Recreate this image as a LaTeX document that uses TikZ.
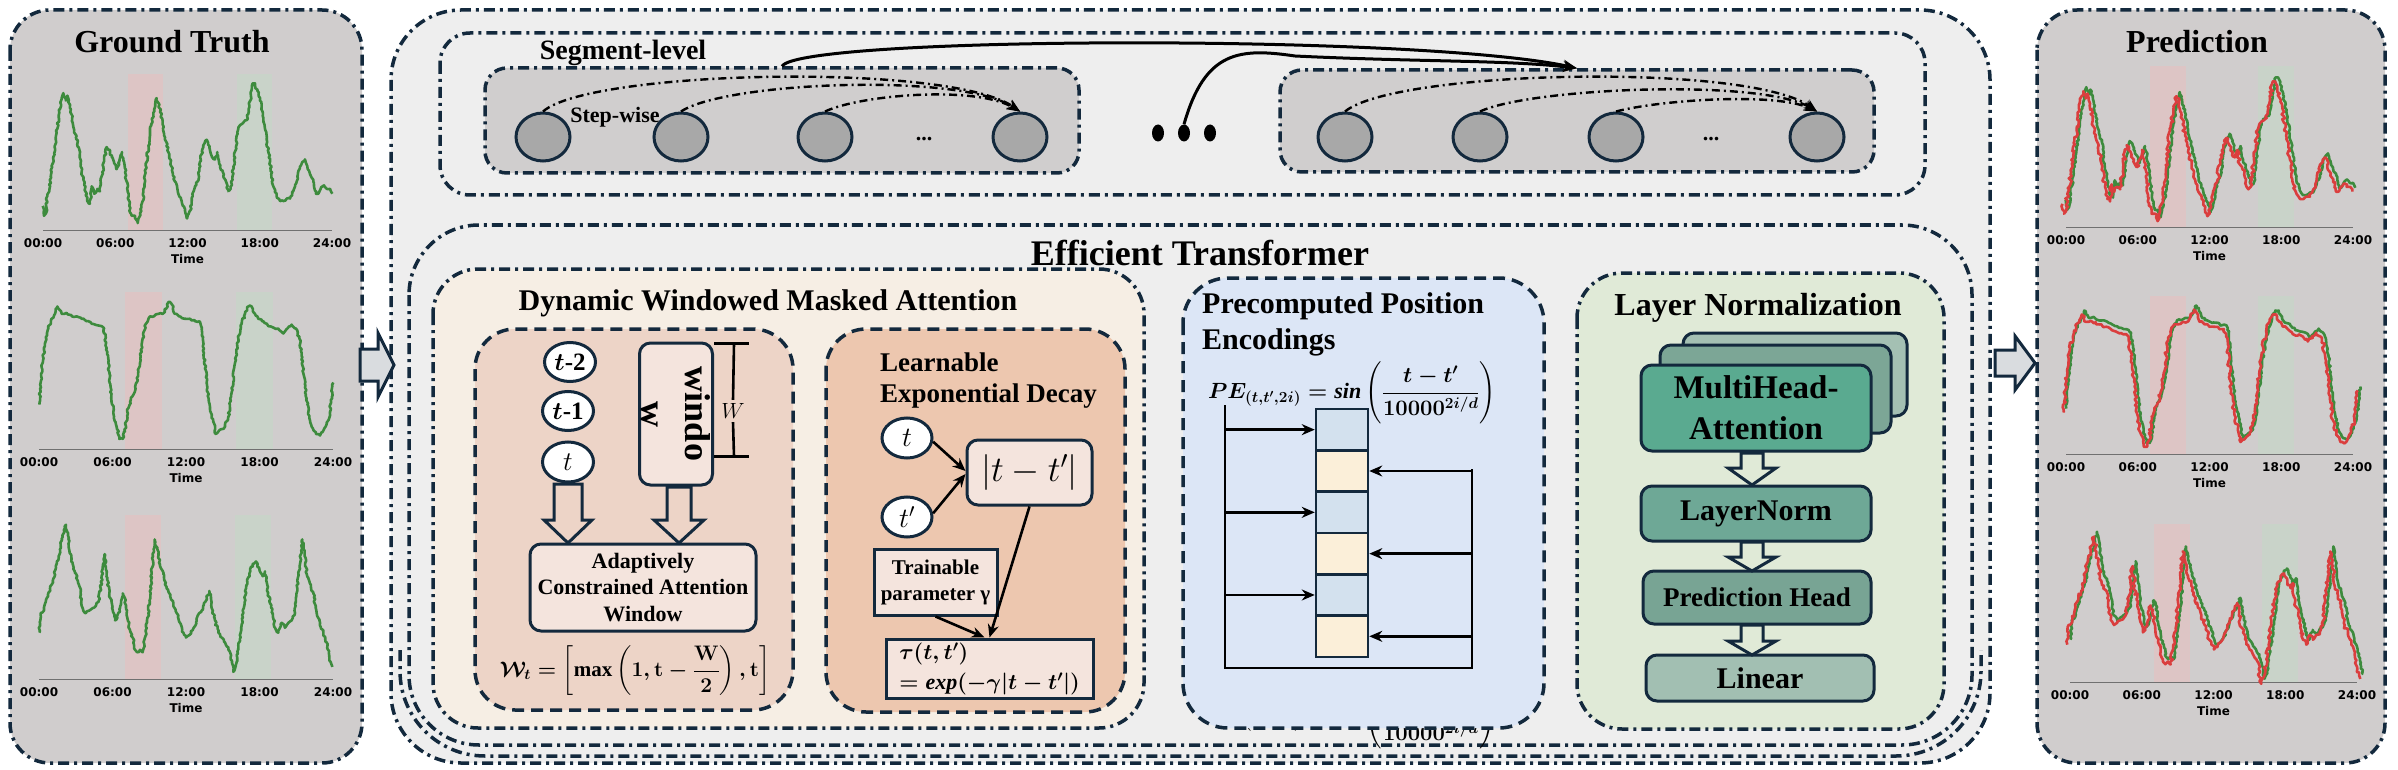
\documentclass[tikz,border=0pt]{standalone}
\usepackage{fix-cm}
\usepackage{amsmath}
\usepackage{fontspec}
\setmainfont{Liberation Serif}
\newfontfamily\djv{DejaVu Sans}
\usetikzlibrary{arrows.meta,decorations.pathmorphing,calc,shapes.geometric}
\definecolor{navy}{HTML}{13293D}
\definecolor{panelgray}{HTML}{D0CDCD}
\definecolor{bandred}{HTML}{DDC5C5}
\definecolor{bandgreen}{HTML}{C9D3C9}
\definecolor{gtgreen}{HTML}{3D8B3D}
\definecolor{predred}{HTML}{DA3E3E}
\definecolor{lightbg}{HTML}{EEEEEE}
\definecolor{seggray}{HTML}{D0CECE}
\definecolor{ellgray}{HTML}{A8A8A8}
\definecolor{creambg}{HTML}{F6EEE4}
\definecolor{salmonA}{HTML}{EDD4C7}
\definecolor{salmonB}{HTML}{EDC7AF}
\definecolor{boxpink}{HTML}{F4E4DD}
\definecolor{peblue}{HTML}{DCE6F6}
\definecolor{cellblue}{HTML}{D3E1EE}
\definecolor{cellcream}{HTML}{FBEFD9}
\definecolor{lngreen}{HTML}{E0EAD7}
\definecolor{mhaA}{HTML}{5AAA90}
\definecolor{mhaB}{HTML}{7CA696}
\definecolor{mhaC}{HTML}{A4C0B3}
\definecolor{cLN}{HTML}{6EA896}
\definecolor{cPH}{HTML}{78A494}
\definecolor{cLin}{HTML}{A2BFB2}
\definecolor{arrowgray}{HTML}{D9DCDF}
\definecolor{axisgray}{HTML}{707070}
\newcommand\fsz[2]{\fontsize{#1}{#2}\selectfont}
\newcommand\wformula{{\boldmath$\mathcal{W}_{t}=\left[\max\left(1,\mathbf{t}-\dfrac{\mathbf{W}}{2}\right),\mathbf{t}\right]$}}
\newcommand\peformula{{\boldmath$PE_{(t,t',2i)}=\mathit{sin}\left(\dfrac{t-t'}{10000^{2i/d}}\right)$}}
\newcommand\absformula{{$|t-t'|$}}
\newcommand\tauA{{\boldmath$\tau(t,t')$}}
\newcommand\tauB{{\boldmath$=\mathit{exp}(-\gamma|t-t'|)$}}
\newcommand\tmath{{$t$}}
\newcommand\tpmath{{$t'$}}
\newcommand\tbold{{\boldmath$t$}}
\newcommand\Wmath{{$W$}}
\tikzset{
  dotframe/.style={draw=navy, line width=3.5pt, dash pattern=on 11pt off 5pt on 3pt off 5pt},
  dashframe/.style={draw=navy, line width=3.5pt, dash pattern=on 12pt off 7pt},
  segbox/.style={rectangle, rounded corners=22pt, fill=seggray, dotframe, inner sep=0pt},
  ellnode/.style={ellipse, draw=navy, line width=3pt, fill=ellgray, minimum width=54pt, minimum height=48pt, inner sep=0pt},
  bigdot/.style={ellipse, fill=black, minimum width=12pt, minimum height=17pt, inner sep=0pt},
  circnode/.style={ellipse, draw=navy, line width=3pt, fill=white, inner sep=0pt},
  softbox/.style={rectangle, rounded corners=11pt, draw=navy, line width=3pt, inner sep=0pt},
  sharpbox/.style={rectangle, draw=navy, line width=3pt, inner sep=0pt},
  cellnode/.style={rectangle, draw=navy, line width=2.5pt, minimum width=52pt, minimum height=41.3pt, inner sep=0pt},
  stepline/.style={line width=2.4pt, dash pattern=on 8pt off 4pt on 2pt off 4pt, -{Stealth[length=13pt,width=10pt]}},
  segarrow/.style={line width=3pt, -{Stealth[length=14pt,width=11pt]}},
  arr/.style={line width=2.6pt, -{Stealth[length=13pt,width=11pt]}},
  bus/.style={line width=2.6pt},
  hollow/.style={draw=navy, line width=3pt, line join=miter},
  gtline/.style={draw=gtgreen, line width=2.6pt, line join=round, decorate, decoration={random steps, segment length=2.2pt, amplitude=1pt}},
  predline/.style={draw=predred, line width=2.6pt, line join=round, decorate, decoration={random steps, segment length=2.4pt, amplitude=1.7pt}},
  ticklab/.style={font=\djv\bfseries\fsz{12}{12}, inner sep=0pt},
}
\newcommand\hollowdown[6]{\draw[hollow] ({#1-#5},#2) -- ({#1-#5},#3) -- ({#1-#6},#3) -- (#1,#4) -- ({#1+#6},#3) -- ({#1+#5},#3) -- ({#1+#5},#2) -- cycle;}
\newcommand\hollowright[6]{\draw[hollow, fill=arrowgray] (#1,{#4-#5}) -- (#2,{#4-#5}) -- (#2,{#4-#6}) -- (#3,#4) -- (#2,{#4+#6}) -- (#2,{#4+#5}) -- (#1,{#4+#5}) -- cycle;}
\newcommand\plotaxes[9]{%
  \fill[bandred] (#5,#4) rectangle (#6,#3);
  \fill[bandgreen] (#7,#4) rectangle (#8,#3);
  \draw[axisgray, line width=1pt] (#1,#3) -- (#2,#3);
  \foreach \k/\lab in {0/00:00,1/06:00,2/12:00,3/18:00,4/24:00}{%
    \node[ticklab] (#9t\k) at ({#1+(#2-#1)*\k/4},{#3+13}) {\lab};}
  \node[ticklab] (#9time) at ({(#1+#2)/2},{#3+29}) {Time};
}
\newcommand\curveA[1]{\draw[#1] (128,420) -- (132,440) -- (138,435) -- (142,400) -- (148,390) -- (152,360) -- (160,320) -- (170,270) -- (178,230) -- (185,200) -- (190,190) -- (197,205) -- (202,195) -- (210,215) -- (218,250) -- (228,280) -- (236,300) -- (245,350) -- (255,385) -- (262,410) -- (270,415) -- (275,380) -- (283,395) -- (292,385) -- (300,390) -- (310,340) -- (320,300) -- (328,305) -- (335,320) -- (342,330) -- (350,345) -- (358,330) -- (366,310) -- (372,330) -- (380,370) -- (388,420) -- (395,440) -- (405,440) -- (413,455) -- (420,435) -- (428,410) -- (440,330) -- (450,270) -- (460,230) -- (470,200) -- (477,215) -- (485,240) -- (495,280) -- (505,310) -- (515,340) -- (525,370) -- (535,395) -- (545,410) -- (555,430) -- (562,445) -- (570,430) -- (578,400) -- (585,380) -- (593,370) -- (600,330) -- (610,300) -- (620,285) -- (628,300) -- (636,320) -- (645,325) -- (652,310) -- (660,340) -- (668,350) -- (678,370) -- (685,390) -- (692,385) -- (700,340) -- (708,300) -- (712,270) -- (720,255) -- (730,250) -- (740,245) -- (748,215) -- (758,170) -- (765,170) -- (772,185) -- (780,205) -- (790,240) -- (800,285) -- (810,330) -- (820,380) -- (830,400) -- (840,410) -- (850,410) -- (860,405) -- (870,405) -- (880,390) -- (890,370) -- (900,340) -- (908,330) -- (915,325) -- (922,340) -- (930,355) -- (940,370) -- (948,395) -- (955,395) -- (962,385) -- (972,378) -- (980,385) -- (990,385) -- (997,395);}
\newcommand\curveB[1]{\draw[#1] (118,825) -- (122,780) -- (128,740) -- (135,700) -- (145,670) -- (155,650) -- (165,640) -- (172,625) -- (185,640) -- (200,638) -- (215,645) -- (230,645) -- (245,650) -- (260,655) -- (275,660) -- (290,663) -- (305,665) -- (312,670) -- (318,700) -- (325,740) -- (332,790) -- (340,840) -- (350,870) -- (358,895) -- (368,895) -- (375,880) -- (382,840) -- (390,820) -- (400,805) -- (410,780) -- (420,740) -- (428,690) -- (438,660) -- (450,645) -- (462,645) -- (475,640) -- (488,640) -- (498,630) -- (508,615) -- (515,620) -- (525,640) -- (540,645) -- (555,650) -- (570,650) -- (585,655) -- (598,655) -- (605,670) -- (612,720) -- (620,780) -- (630,830) -- (640,860) -- (648,885) -- (655,880) -- (665,875) -- (675,870) -- (685,850) -- (695,800) -- (705,740) -- (715,690) -- (725,660) -- (735,640) -- (745,625) -- (755,625) -- (765,640) -- (775,650) -- (790,655) -- (805,665) -- (820,668) -- (835,670) -- (850,680) -- (862,670) -- (875,662) -- (888,670) -- (898,690) -- (905,720) -- (915,790) -- (925,840) -- (935,870) -- (948,885) -- (960,888) -- (970,878) -- (980,865) -- (990,840) -- (995,810) -- (1000,780);}
\newcommand\curveC[1]{\draw[#1] (118,1290) -- (122,1250) -- (132,1245) -- (140,1220) -- (150,1200) -- (160,1180) -- (170,1150) -- (180,1120) -- (188,1095) -- (198,1070) -- (205,1100) -- (212,1130) -- (220,1160) -- (228,1170) -- (238,1195) -- (248,1240) -- (258,1250) -- (268,1245) -- (278,1240) -- (288,1235) -- (296,1225) -- (302,1200) -- (308,1160) -- (314,1130) -- (320,1170) -- (328,1210) -- (336,1240) -- (345,1265) -- (352,1260) -- (360,1240) -- (368,1210) -- (375,1220) -- (382,1260) -- (390,1285) -- (398,1300) -- (405,1325) -- (412,1330) -- (420,1325) -- (428,1330) -- (435,1300) -- (445,1250) -- (455,1170) -- (464,1100) -- (472,1120) -- (480,1150) -- (490,1170) -- (500,1200) -- (510,1215) -- (520,1230) -- (530,1250) -- (540,1270) -- (550,1290) -- (558,1300) -- (568,1295) -- (578,1285) -- (588,1270) -- (598,1250) -- (605,1245) -- (612,1230) -- (620,1220) -- (628,1205) -- (635,1240) -- (645,1265) -- (655,1290) -- (665,1300) -- (675,1310) -- (685,1320) -- (692,1340) -- (700,1370) -- (708,1355) -- (715,1320) -- (722,1290) -- (730,1250) -- (738,1200) -- (748,1170) -- (758,1150) -- (768,1145) -- (778,1160) -- (788,1175) -- (795,1165) -- (802,1200) -- (810,1230) -- (818,1250) -- (825,1280) -- (835,1290) -- (845,1270) -- (855,1280) -- (865,1270) -- (875,1265) -- (885,1250) -- (892,1200) -- (900,1150) -- (907,1100) -- (914,1130) -- (920,1170) -- (930,1190) -- (940,1210) -- (950,1250) -- (960,1270) -- (970,1290) -- (980,1310) -- (988,1340) -- (997,1360);}
\begin{document}
\begin{tikzpicture}[x=1pt,y=-1pt]
\pgfmathsetseed{12}
\useasboundingbox (0,0) rectangle (2398,770);

% ---------- Ground Truth panel ----------
\draw[dotframe, fill=panelgray, rounded corners=40pt] (10,10) rectangle (362,763);
\node[font=\bfseries\fsz{32}{32}] (gttitle) at (172,42) {Ground Truth};
\plotaxes{43}{332}{230}{74}{128}{163}{237}{272}{ga}
\plotaxes{39}{333}{449}{292}{125}{162}{236}{273}{gb}
\plotaxes{39}{333}{679}{515}{125}{161}{235}{271}{gc}
\begin{scope}[x=0.33333pt,y=-0.4904pt]
  \curveA{gtline}
  \curveB{gtline}
  \curveC{gtline}
\end{scope}

% ---------- Prediction panel ----------
\draw[dotframe, fill=panelgray, rounded corners=40pt] (2037,10) rectangle (2385,763);
\node[font=\bfseries\fsz{32}{32}] (predtitle) at (2197,42) {Prediction};
\plotaxes{2066}{2353}{227}{66}{2150}{2186}{2258}{2294}{pa}
\plotaxes{2066}{2353}{454}{296}{2150}{2186}{2258}{2294}{pb}
\plotaxes{2070}{2357}{682}{524}{2154}{2190}{2262}{2298}{pc}
\begin{scope}[shift={(2023,-6)},x=0.33333pt,y=-0.4904pt]
  \curveA{gtline}
  \curveA{predline,xshift=-3pt,yshift=-4pt}
\end{scope}
\begin{scope}[shift={(2027,4)},x=0.33333pt,y=-0.4904pt]
  \curveB{gtline}
  \curveB{predline,xshift=-2.5pt,yshift=-4pt}
\end{scope}
\begin{scope}[shift={(2031,7)},x=0.33333pt,y=-0.4904pt]
  \curveC{gtline}
  \curveC{predline,xshift=-3pt,yshift=-5pt}
\end{scope}

% ---------- big middle frame ----------
\draw[dotframe, fill=lightbg, rounded corners=70pt] (391,10) rectangle (1990,763);
\draw[dotframe, rounded corners=30pt] (440,33) rectangle (1925,195);

% segment boxes
\node[segbox, minimum width=594pt, minimum height=105pt] (seg1) at (782,120.5) {};
\node[segbox, minimum width=594pt, minimum height=102pt] (seg2) at (1577,121) {};
\node[ellnode] (a1) at (543,137) {};
\node[ellnode] (a2) at (681,137) {};
\node[ellnode] (a3) at (825,137) {};
\node[ellnode] (a4) at (1020,137) {};
\node[ellnode] (b1) at (1345,137) {};
\node[ellnode] (b2) at (1480,137) {};
\node[ellnode] (b3) at (1616,137) {};
\node[ellnode] (b4) at (1817,137) {};
\node[font=\bfseries\fsz{22}{22}, inner sep=0pt] (el1) at (924,139) {...};
\node[font=\bfseries\fsz{22}{22}, inner sep=0pt] (el2) at (1711,139) {...};
\node[bigdot] (d1) at (1158,133) {};
\node[bigdot] (d2) at (1184,133) {};
\node[bigdot] (d3) at (1210,133) {};

\draw[stepline] (a1.north) .. controls (590,70) and (950,62) .. (a4.north);
\draw[stepline] (a2.north) .. controls (725,82) and (960,72) .. (a4.north);
\draw[stepline] (a3.north) .. controls (860,95) and (975,85) .. (a4.north);
\draw[stepline] (b1.north) .. controls (1395,70) and (1750,62) .. (b4.north);
\draw[stepline] (b2.north) .. controls (1530,88) and (1760,78) .. (b4.north);
\draw[stepline] (b3.north) .. controls (1660,100) and (1775,92) .. (b4.north);

\draw[segarrow] (seg1.north) .. controls (800,36) and (1420,34) .. (seg2.north);
\draw[segarrow] (d2.north) .. controls (1205,50) and (1240,48) .. (1295,56) .. controls (1420,62) and (1510,60) .. (seg2.north);

\node[font=\bfseries\fsz{28}{28}] (seglab) at (623,53) {Segment-level};
\node[font=\bfseries\fsz{22}{22}] (steplab) at (615,117) {Step-wise};

% ---------- Efficient Transformer frames ----------
\draw[dotframe, rounded corners=85pt] (400,650) -- (400,756) -- (1981,756) -- (1981,650);
\draw[dotframe, rounded corners=70pt] (409,225) rectangle (1972,745);
\node[font=\bfseries\fsz{36}{36}] (ettitle) at (1200,253) {Efficient Transformer};

% ---------- Dynamic Windowed Masked Attention ----------
\draw[dotframe, fill=creambg, rounded corners=45pt] (433,269) rectangle (1144,728);
\node[font=\bfseries\fsz{30}{30}] (dwtitle) at (768,303) {Dynamic Windowed Masked Attention};
\draw[dashframe, fill=salmonA, rounded corners=40pt] (475,329) rectangle (793,710);
\draw[dashframe, fill=salmonB, rounded corners=40pt] (826,329) rectangle (1125,712);

\node[circnode, minimum width=51pt, minimum height=39pt, font=\bfseries\fsz{25}{25}] (tm2) at (570,362) {\tbold-2};
\node[circnode, minimum width=51pt, minimum height=39pt, font=\bfseries\fsz{25}{25}] (tm1) at (568,411) {\tbold-1};
\node[circnode, minimum width=51pt, minimum height=40pt, font=\fsz{27}{27}] (tt) at (568,462) {\tmath};

\node[softbox, fill=boxpink, minimum width=73pt, minimum height=142pt] (win) at (676,414) {};
\node[rotate=-90, align=center, font=\bfseries\fsz{36}{44}, inner sep=0pt] (wintext) at (676,414) {windo\\w};
\coordinate (dimA) at ($(win.north east)+(20,2)$);
\coordinate (dimB) at ($(win.north east)+(20,115)$);
\draw[line width=2.6pt] ([yshift=-2pt]win.north east) -- ++(35,0);
\draw[line width=2.6pt] ($(win.north east)+(0,115)$) -- ++(35,0);
\node[font=\fsz{22}{22}] (wlab) at (733,411) {\Wmath};
\draw[line width=2.6pt] (dimA) -- (wlab.north);
\draw[line width=2.6pt] (wlab.south) -- (dimB);

\node[softbox, fill=boxpink, minimum width=226pt, minimum height=87pt, align=center, font=\bfseries\fsz{22}{26.5}] (acaw) at (643,587.5) {Adaptively\\Constrained Attention\\Window};
\hollowdown{568}{484}{520}{543}{14}{24}
\hollowdown{679}{487}{520}{543}{12}{25}
\node[font=\fsz{21}{21}] (wform) at (635,671) {\wformula};

\node[anchor=west, align=left, font=\bfseries\fsz{27}{31}, inner sep=0pt] (ledlab) at (880,381) {Learnable\\Exponential Decay};
\node[circnode, minimum width=50pt, minimum height=40pt, font=\fsz{28}{28}] (ct) at (907,438) {\tmath};
\node[circnode, minimum width=50pt, minimum height=40pt, font=\fsz{28}{28}] (ctp) at (907,517) {\tpmath};
\node[softbox, fill=boxpink, minimum width=125pt, minimum height=65pt, font=\fsz{36}{36}] (abs) at (1029.5,472.5) {\absformula};
\node[sharpbox, fill=boxpink, minimum width=123pt, minimum height=66pt, align=center, font=\bfseries\fsz{21}{26}] (train) at (935.5,582) {Trainable\\parameter γ};
\node[sharpbox, fill=boxpink, minimum width=207pt, minimum height=59pt, align=left, font=\fsz{22}{30}] (tau) at (989.5,668.5) {\tauA\\\tauB};
\draw[arr] (ct.-8) -- ([yshift=1.5pt]abs.west);
\draw[arr] (ctp.8) -- ([yshift=-1.5pt]abs.west);
\draw[arr] (abs.south) -- (tau.north);
\draw[arr] (train.south) -- ([xshift=-5pt]tau.north);

% ---------- Precomputed Position Encodings ----------
\node[font=\fsz{22}{22}] (peghost) at (1352,718) {\peformula};
\draw[dashframe, fill=peblue, rounded corners=45pt] (1183,278) rectangle (1544,728);
\node[anchor=west, align=left, font=\bfseries\fsz{30}{36}, inner sep=0pt] (petitle) at (1202,324) {Precomputed Position\\Encodings};
\node[font=\fsz{22}{22}] (peform) at (1352,393) {\peformula};
\foreach \i/\cc in {1/cellblue,2/cellcream,3/cellblue,4/cellcream,5/cellblue,6/cellcream}{
  \node[cellnode, fill=\cc] (c\i) at (1342,{409+(\i-0.5)*41.33}) {};
}
\coordinate (bl1) at (1225,405);
\coordinate (bl2) at (1225,668);
\coordinate (br1) at (1472,469);
\coordinate (br2) at (1472,668);
\draw[bus] (bl1) -- (bl2) -- (br2) -- (br1);
\foreach \i in {1,3,5}{ \draw[arr] (bl1 |- c\i.west) -- (c\i.west); }
\foreach \i in {2,4,6}{ \draw[arr] (br1 |- c\i.east) -- (c\i.east); }

% ---------- Layer Normalization ----------
\draw[dotframe, fill=lngreen, rounded corners=45pt] (1577,273) rectangle (1944,729);
\node[font=\bfseries\fsz{32}{32}] (lntitle) at (1758,308) {Layer Normalization};
\node[softbox, fill=mhaC, minimum width=224pt, minimum height=83pt] (mh3) at (1795,374.5) {};
\node[softbox, fill=mhaB, minimum width=231pt, minimum height=88pt] (mh2) at (1775.5,389) {};
\node[softbox, fill=mhaA, minimum width=230pt, minimum height=86pt, align=center, font=\bfseries\fsz{33}{41}] (mh1) at (1756,408) {MultiHead-\\Attention};
\node[softbox, fill=cLN, minimum width=230pt, minimum height=55pt, font=\bfseries\fsz{30}{30}] (lnorm) at (1756,513.5) {LayerNorm};
\node[softbox, fill=cPH, minimum width=228pt, minimum height=53pt, font=\bfseries\fsz{27}{27}] (phead) at (1757,597.5) {Prediction Head};
\node[softbox, fill=cLin, minimum width=228pt, minimum height=46pt, font=\bfseries\fsz{30}{30}] (lin) at (1760,678) {Linear};
\hollowdown{1752}{453}{468}{485}{11}{24}
\hollowdown{1752}{542}{557}{571}{11}{24}
\hollowdown{1752}{625}{641}{655}{11}{24}

% ---------- big hollow arrows ----------
\hollowright{360}{378}{394}{365}{16}{32}
\hollowright{1995}{2015}{2035}{363}{13}{27}
\end{tikzpicture}
\end{document}
